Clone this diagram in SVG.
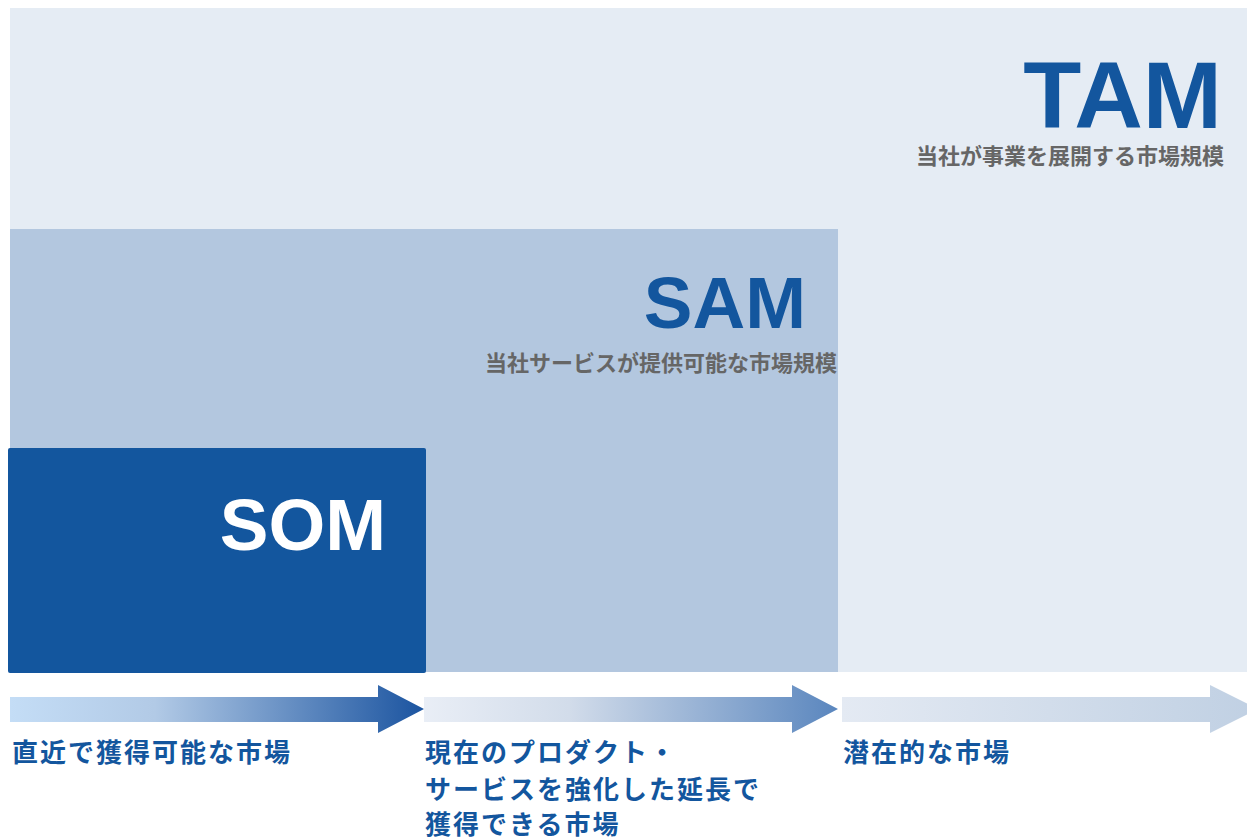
<svg xmlns="http://www.w3.org/2000/svg" width="1247" height="839" viewBox="0 0 1247 839">
<defs>
<style>
.big{font-family:"Liberation Sans",Arial,sans-serif;font-weight:700;text-anchor:end}
.sub{font-family:"Noto Sans CJK JP","Noto Sans",sans-serif;font-weight:700;font-size:22px;fill:#666666;text-anchor:end}
.lab{font-family:"Noto Sans CJK JP","Noto Sans",sans-serif;font-weight:700;font-size:26px;fill:#13569E;letter-spacing:2px}
</style>
<linearGradient id="g1" x1="10" y1="0" x2="424" y2="0" gradientUnits="userSpaceOnUse">
<stop offset="0" stop-color="#C4DDF6"/><stop offset="0.35" stop-color="#B2CAE6"/><stop offset="1" stop-color="#1B54A0"/>
</linearGradient>
<linearGradient id="g2" x1="424" y1="0" x2="838" y2="0" gradientUnits="userSpaceOnUse">
<stop offset="0" stop-color="#E9EEF6"/><stop offset="0.35" stop-color="#D2DCEA"/><stop offset="1" stop-color="#5A86BE"/>
</linearGradient>
<linearGradient id="g3" x1="842" y1="0" x2="1256" y2="0" gradientUnits="userSpaceOnUse">
<stop offset="0" stop-color="#E4EAF3"/><stop offset="1" stop-color="#C0D0E3"/>
</linearGradient>
</defs>
<rect width="1247" height="839" fill="#FFFFFF"/>
<g id="tam">
<rect x="10" y="8" width="1237" height="664" fill="#E5ECF4"/>
<text class="big" x="1222" y="128" font-size="95" fill="#13569E">TAM</text>
<text class="sub" x="1224" y="164">当社が事業を展開する市場規模</text>
</g>
<g id="sam">
<rect x="10" y="229" width="828" height="443" fill="#B3C7DF"/>
<text class="big" x="806" y="328" font-size="73" fill="#13569E">SAM</text>
<text class="sub" x="837" y="371">当社サービスが提供可能な市場規模</text>
</g>
<g id="som">
<rect x="8" y="448" width="418" height="225" rx="2" fill="#13569E"/>
<text class="big" x="386" y="550" font-size="73" fill="#FFFFFF">SOM</text>
</g>
<g id="connectors">
<path d="M10 697 H378 V685 L424 709 L378 733 V722 H10 Z" fill="url(#g1)"/>
<path d="M424 697 H792 V685 L838 709 L792 733 V722 H424 Z" fill="url(#g2)"/>
<path d="M842 697 H1210 V685 L1258 709 L1210 733 V722 H842 Z" fill="url(#g3)"/>
</g>
<g id="labels">
<text class="lab" x="12" y="762">直近で獲得可能な市場</text>
<text class="lab" x="425" y="762">現在のプロダクト・</text>
<text class="lab" x="425" y="799">サービスを強化した延長で</text>
<text class="lab" x="425" y="834">獲得できる市場</text>
<text class="lab" x="843" y="762">潜在的な市場</text>
</g>
</svg>
